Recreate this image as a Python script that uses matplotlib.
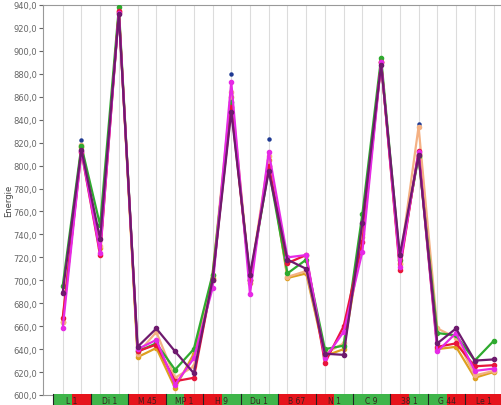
import matplotlib
matplotlib.use("Agg")
import matplotlib.pyplot as plt
from matplotlib.patches import Rectangle

# ---- data ----
group_labels = ["L 1", "Di 1", "M 45", "MP 1", "H 9", "Du 1",
                "B 67", "N 1", "C 9", "38 1", "G 44", "Le 1"]
cell_status = ["g", "r", "g", "g", "r", "r", "g", "r", "r", "g", "g", "g",
               "r", "r", "r", "g", "g", "g", "r", "g", "g", "r", "r", "r"]

green   = [695, 817, 748, 938, 638, 645, 622, 640, 705, 855, 700, 797, 706, 718, 640, 643, 758, 894, 718, 808, 654, 652, 630, 647]
purple  = [689, 814, 736, 932, 642, 658, 638, 619, 700, 847, 705, 795, 718, 710, 636, 635, 750, 888, 722, 809, 645, 658, 630, 631]
red     = [667, 812, 722, 935, 638, 644, 612, 615, 700, 851, 700, 800, 715, 722, 628, 660, 733, 890, 709, 813, 642, 645, 625, 626]
magenta = [658, 813, 724, 933, 640, 648, 609, 632, 693, 873, 688, 812, 720, 722, 632, 655, 725, 890, 712, 812, 638, 654, 621, 623]
peach   = [664, 818, 730, 935, 636, 655, 615, 625, 705, 864, 700, 808, 703, 708, 636, 645, 740, 890, 715, 834, 658, 650, 617, 621]
gold    = [664, 816, 728, 934, 633, 641, 606, 636, 702, 860, 698, 805, 702, 706, 634, 640, 738, 890, 714, 810, 640, 642, 615, 620]
navy    = [690, 822, 736, 932, 642, 658, 638, 619, 700, 880, 705, 823, 718, 710, 636, 635, 750, 888, 722, 836, 645, 658, 630, 631]

y_ticks = list(range(600, 941, 20))

# ---- figure ----
W, H = 501, 406
fig = plt.figure(figsize=(W / 100, H / 100), dpi=100)
fig.patch.set_facecolor("white")

left = 43 / W
ax = fig.add_axes([left, 10 / H, 1 - left, 390 / H])
x = list(range(len(green)))

series = [
    (navy, "#1f3a93", 0.0, 2.2),
    (gold, "#dda020", 1.6, 3.0),
    (peach, "#f4b183", 1.6, 3.0),
    (green, "#2faa2f", 1.6, 3.0),
    (red, "#e8163c", 1.6, 3.0),
    (magenta, "#e62ae6", 1.6, 3.0),
    (purple, "#6e1a6e", 1.6, 3.0),
]
for vals, col, lw, ms in series:
    ax.plot(x, vals, color=col, lw=lw, ls="-" if lw > 0 else "none",
            marker="o", ms=ms, mec=col, mfc=col, zorder=3)

ax.set_xlim(-1.05, 23.4)
ax.set_ylim(600, 940)
ax.set_xticks(x)
ax.tick_params(axis="x", length=0, labelbottom=False)
ax.grid(axis="x", color="#dcdcdc", lw=0.8, zorder=0)
ax.set_yticks(y_ticks)
ax.set_yticklabels([f"{v:.1f}".replace(".", ",") for v in y_ticks])
ax.tick_params(axis="y", labelsize=6, colors="#666666", length=3, width=0.8, pad=1)
for s in ["left", "top", "bottom"]:
    ax.spines[s].set_color("#999999")
    ax.spines[s].set_linewidth(0.8)
ax.spines["right"].set_visible(False)
ax.set_ylabel("Energie", fontsize=6, color="#444444", labelpad=2)
ax.yaxis.set_label_coords(-0.065, 0.5)

# ---- bottom status strip ----
sx = fig.add_axes([left, 0, 1 - left, 9 / H])
sx.set_xlim(ax.get_xlim())
sx.set_ylim(0, 1)
sx.axis("off")
colmap = {"g": "#3fb54a", "r": "#e6141c"}
for i, st in enumerate(cell_status):
    sx.add_patch(Rectangle((i - 0.5, 0), 1, 1.2, facecolor=colmap[st], edgecolor="none", clip_on=False))
for j, lab in enumerate(group_labels):
    sx.plot([2 * j - 0.5, 2 * j - 0.5], [0, 1.2], color="#222222", lw=0.8, clip_on=False)
    sx.text(2 * j + 0.5, 0.55, lab, ha="center", va="center", fontsize=5.5, color="#3a2020")

fig.savefig("out.png", dpi=100)
